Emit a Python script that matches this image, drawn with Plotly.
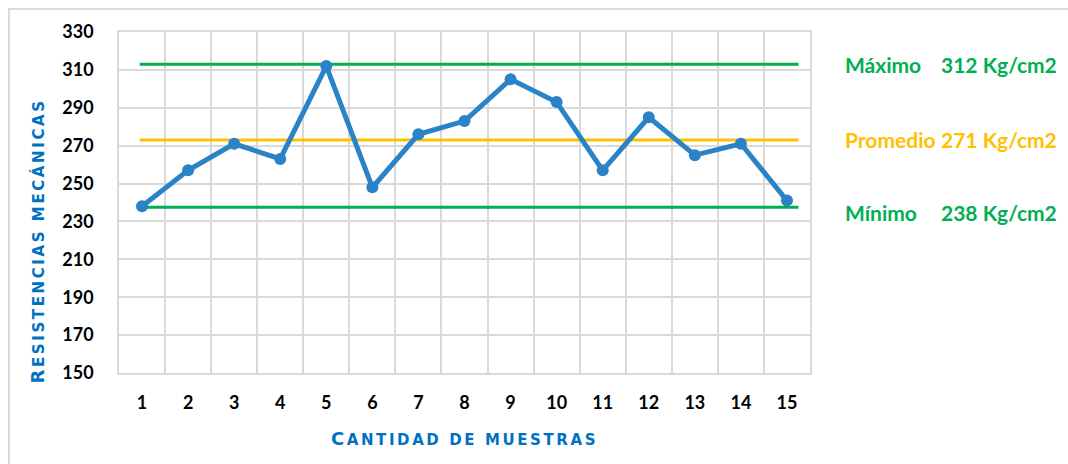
import plotly.graph_objects as go

muestras = list(range(1, 16))
resistencias = [238, 257, 271, 263, 312, 248, 276, 283, 305, 293, 257, 285, 265, 271, 241]
linea_max = 313
linea_prom = 273
linea_min = 237.5
ref_x = [0.95, 15.25]
etiquetas = ["Máximo", "Promedio", "Mínimo"]
valores_txt = ["312 Kg/cm2", "271 Kg/cm2", "238 Kg/cm2"]
colores_txt = ["#00B050", "#FFC000", "#00B050"]
y_ticks = list(range(150, 331, 20))
titulo_x = "Cantidad de muestras"
titulo_y = "Resistencias mecánicas"

BLUE = "#2A83C7"
GREEN = "#00B050"
YELLOW = "#FFC000"
GRID = "#D9D9D9"

fig = go.Figure()
for val, col in [(linea_max, GREEN), (linea_prom, YELLOW), (linea_min, GREEN)]:
    fig.add_trace(go.Scatter(x=ref_x, y=[val, val], mode="lines",
                             line=dict(color=col, width=3), hoverinfo="skip"))
fig.add_trace(go.Scatter(x=muestras, y=resistencias, mode="lines+markers",
                         line=dict(color=BLUE, width=5),
                         marker=dict(color=BLUE, size=12)))

L, R, T, B = 119, 258, 32, 91
W, H = 1068, 464
pw, ph = W - L - R, H - T - B

def px(x):
    return (x - L) / pw

def py(y):
    return (H - B - y) / ph

title_font = dict(family="DejaVu Sans", size=15, color="#0070C0",
                  weight="bold", textcase="upper")

def smallcaps(text):
    return ('<span style="letter-spacing:2.6px"><span style="font-size:18px">%s</span>%s</span>'
            % (text[0], text[1:]))

fig.update_layout(
    width=W, height=H,
    margin=dict(l=L, r=R, t=T, b=B),
    paper_bgcolor="white", plot_bgcolor="white",
    showlegend=False,
    font=dict(family="Lato", size=18, color="black"),
    xaxis=dict(
        range=[0.5, 15.5], tickvals=muestras, ticktext=[str(m) for m in muestras],
        showgrid=False, zeroline=False,
        showline=True, linecolor=GRID, linewidth=1.5, mirror=True,
        tickfont=dict(family="Lato", size=18, color="black", weight="bold"),
        ticks="outside", ticklen=13, tickcolor="rgba(0,0,0,0)",
        minor=dict(tick0=0.5, dtick=1, showgrid=True, gridcolor=GRID, gridwidth=1.5),
        title=dict(text=smallcaps(titulo_x), font=title_font, standoff=22),
        fixedrange=True,
    ),
    yaxis=dict(
        range=[150, 330], tickvals=y_ticks,
        showgrid=True, gridcolor=GRID, gridwidth=1.5, zeroline=False,
        showline=True, linecolor=GRID, linewidth=1.5, mirror=True,
        tickfont=dict(family="Lato", size=18, color="black", weight="bold"),
        ticks="outside", ticklen=20, tickcolor="rgba(0,0,0,0)",
        fixedrange=True,
    ),
)

# y-axis title placed like the reference (below plot centre)
fig.add_annotation(x=px(37), y=py(241.5), xref="paper", yref="paper",
                   text=smallcaps(titulo_y), textangle=-90, showarrow=False,
                   xanchor="center", yanchor="middle", font=title_font)

# outer chart border
fig.add_shape(type="rect", xref="paper", yref="paper",
              x0=px(9), x1=px(1075), y0=py(470), y1=py(9),
              line=dict(color="#D9D9D9", width=2), layer="below")

rows_y = [64, 139, 212]
for lab, val, col, yy in zip(etiquetas, valores_txt, colores_txt, rows_y):
    fig.add_annotation(x=px(843), y=py(yy), xref="paper", yref="paper",
                       text=lab, showarrow=False, xanchor="left", yanchor="middle",
                       font=dict(family="Lato", size=21, color=col, weight="bold"))
    fig.add_annotation(x=px(1059), y=py(yy), xref="paper", yref="paper",
                       text=val, showarrow=False, xanchor="right", yanchor="middle",
                       font=dict(family="Lato", size=21, color=col, weight="bold"))

fig.write_html("out.html", config={"displayModeBar": False},
               post_script="document.body.style.margin='0';")
